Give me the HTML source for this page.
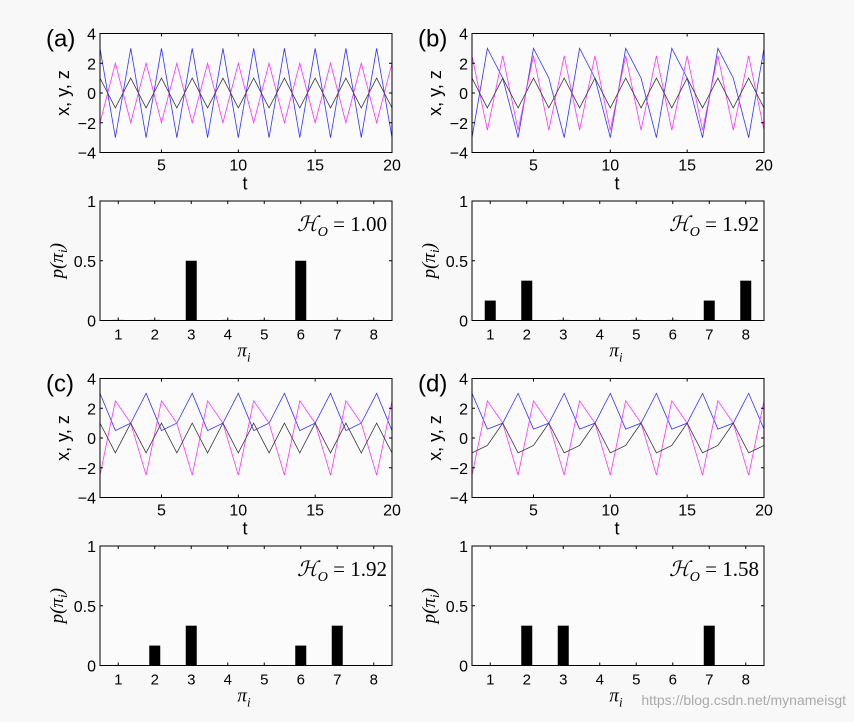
<!DOCTYPE html>
<html><head><meta charset="utf-8"><style>
body{margin:0;background:#f8f8f8;}
svg text{font-family:"Liberation Sans",sans-serif;fill:#000;}
svg text.m{font-family:"Liberation Serif",serif;font-style:italic;}
svg text.ser{font-family:"Liberation Serif",serif;}
</style></head><body>
<svg id="c" width="854" height="717" viewBox="0 0 854 717"></svg>
<script>
const tA=[1,2,3,4,5,6,7,8,9,10,11,12,13,14,15,16,17,18,19,20];
const blueA=[3,-3,3,-3,3,-3,3,-3,3,-3,3,-3,3,-3,3,-3,3,-3,3,-3];
const magA=[-2,2,-2,2,-2,2,-2,2,-2,2,-2,2,-2,2,-2,2,-2,2,-2,2];
const blkA=[1,-1,1,-1,1,-1,1,-1,1,-1,1,-1,1,-1,1,-1,1,-1,1,-1];
const blueB=[-3,3,1,-3,3,1,-3,3,1,-3,3,1,-3,3,1,-3,3,1,-3,3];
const magB=[2.5,-2.5,2.5,-2.5,2.5,-2.5,2.5,-2.5,2.5,-2.5,2.5,-2.5,2.5,-2.5,2.5,-2.5,2.5,-2.5,2.5,-2.5];
const blkB=[1,-1,1,-1,1,-1,1,-1,1,-1,1,-1,1,-1,1,-1,1,-1,1,-1];
const blueC=[3,0.5,1,3,0.5,1,3,0.5,1,3,0.5,1,3,0.5,1,3,0.5,1,3,0.5];
const magC=[-2.5,2.5,1,-2.5,2.5,1,-2.5,2.5,1,-2.5,2.5,1,-2.5,2.5,1,-2.5,2.5,1,-2.5,2.5];
const blkC=[1,-1,1,-1,1,-1,1,-1,1,-1,1,-1,1,-1,1,-1,1,-1,1,-1];
const blueD=[3,0.6,1,3,0.6,1,3,0.6,1,3,0.6,1,3,0.6,1,3,0.6,1,3,0.6];
const magD=[-2.5,2.5,1,-2.5,2.5,1,-2.5,2.5,1,-2.5,2.5,1,-2.5,2.5,1,-2.5,2.5,1,-2.5,2.5];
const blkD=[-1,-0.5,1,-1,-0.5,1,-1,-0.5,1,-1,-0.5,1,-1,-0.5,1,-1,-0.5,1,-1,-0.5];
const patterns=[1,2,3,4,5,6,7,8];
const probA=[0.005,0.005,0.5,0.005,0.005,0.5,0.005,0.005];
const probB=[0.1667,0.3333,0.005,0.005,0.005,0.005,0.1667,0.3333];
const probC=[0,0.1667,0.3333,0,0,0.1667,0.3333,0];
const probD=[0,0.3333,0.3333,0,0,0,0.3333,0];
const entropy=["1.00","1.92","1.92","1.58"];
const labels=["(a)","(b)","(c)","(d)"];
const yTicksT=[-4,-2,0,2,4];
const xTicksT=[5,10,15,20];
const yTicksP=[0,0.5,1];

const svg=document.getElementById('c');
const NS='http://www.w3.org/2000/svg';
function el(tag,attrs,parent){const e=document.createElementNS(NS,tag);for(const k in attrs)e.setAttribute(k,attrs[k]);(parent||svg).appendChild(e);return e;}
function txt(s,x,y,size,anchor,parent,cls){const e=el('text',{x:x,y:y,'font-size':size,'text-anchor':anchor||'middle'},parent);if(cls)e.setAttribute('class',cls);e.textContent=s;return e;}

const panels=[
 {ox:100,oy:0,blue:blueA,mag:magA,blk:blkA,prob:probA},
 {ox:472,oy:0,blue:blueB,mag:magB,blk:blkB,prob:probB},
 {ox:100,oy:345,blue:blueC,mag:magC,blk:blkC,prob:probC},
 {ox:472,oy:345,blue:blueD,mag:magD,blk:blkD,prob:probD}];
const W=292,H=119;
panels.forEach((p,i)=>{
 const g=el('g',{});
 
 
 const L=p.ox,T=p.oy+33.5;
 const xs=t=>L+(t-1)/19*W, ys=v=>T+(4-v)/8*H;
 el('rect',{x:L,y:T,width:W,height:H,fill:'#fbfbfb',stroke:'none'},g);
 [[p.blue,'#3333ff'],[p.mag,'#ff33ff'],[p.blk,'#333']].forEach(([arr,col],k)=>{
  const pl=el('polyline',{points:arr.map((v,j)=>xs(tA[j])+','+ys(v)).join(' '),fill:'none',stroke:col,'stroke-width':0.8},g);
  
  
 });
 el('rect',{x:L,y:T,width:W,height:H,fill:'none',stroke:'#000','stroke-width':1},g);
 yTicksT.forEach(v=>{const y=ys(v);el('line',{x1:L,x2:L+3,y1:y,y2:y,stroke:'#000'},g);el('line',{x1:L+W,x2:L+W-3,y1:y,y2:y,stroke:'#000'},g);txt(v<0?'\u2212'+(-v):''+v,L-4,y+6,16,'end',g);});
 xTicksT.forEach(v=>{const x=xs(v);el('line',{x1:x,x2:x,y1:T+H,y2:T+H-3,stroke:'#000'},g);el('line',{x1:x,x2:x,y1:T,y2:T+3,stroke:'#000'},g);txt(''+v,x,T+H+18,16,'middle',g);});
 const xl=txt('t',L+W/2-1,T+H+37,18,'middle',g);
 const yl=txt('x, y, z',0,0,18,'middle',g);yl.setAttribute('transform','translate('+(L-31)+','+(T+H/2)+') rotate(-90)');
 const pl=txt(labels[i],L-54,T+13,24,'start',g);

 const b=el('g',{});
 
 
 const BT=p.oy+201,BH=119.5;
 const bx=c=>L+(c-0.5)/8*W, by=v=>BT+(1-v)*BH;
 el('rect',{x:L,y:BT,width:W,height:BH,fill:'#fbfbfb'},b);
 p.prob.forEach((v,j)=>{
  if(v<=0)return;
  const r=el('rect',{x:bx(patterns[j])-5.5,y:by(v),width:11,height:BT+BH-by(v),fill:'#000'},b);
  
  
 });
 el('rect',{x:L,y:BT,width:W,height:BH,fill:'none',stroke:'#000'},b);
 yTicksP.forEach(v=>{const y=by(v);el('line',{x1:L,x2:L+3,y1:y,y2:y,stroke:'#000'},b);el('line',{x1:L+W,x2:L+W-3,y1:y,y2:y,stroke:'#000'},b);txt(''+v,L-4,y+6,16,'end',b);});
 patterns.forEach(c=>{const x=bx(c);el('line',{x1:x,x2:x,y1:BT+BH,y2:BT+BH-3,stroke:'#000'},b);el('line',{x1:x,x2:x,y1:BT,y2:BT+3,stroke:'#000'},b);txt(''+c,x,BT+BH+19,15,'middle',b);});
 const bxl=el('text',{x:L+W/2-2,y:BT+BH+36,'font-size':19,'text-anchor':'middle'},b);bxl.setAttribute('class','m');bxl.innerHTML='\u03c0<tspan font-size="13" dy="5">i</tspan>';
 
 const byl=el('text',{x:0,y:0,'font-size':19,'text-anchor':'middle'},b);byl.setAttribute('class','m');byl.innerHTML='p(\u03c0<tspan font-size="13" dy="4">i</tspan><tspan dy="-4">)</tspan>';
 byl.setAttribute('transform','translate('+(L-37)+','+(BT+BH/2)+') rotate(-90)');
 
 const en=el('text',{x:L+W-5,y:BT+30,'font-size':21,'text-anchor':'end'},b);en.setAttribute('class','ser');
 en.innerHTML='<tspan font-style="italic">\u210b</tspan><tspan font-size="14" dy="5" font-style="italic">O</tspan><tspan dy="-5"> = '+entropy[i]+'</tspan>';
 
});
const wm=txt('https://blog.csdn.net/mynameisgt',846,705,14,'end');wm.style.fill='#aaa';

</script>
</body></html>
